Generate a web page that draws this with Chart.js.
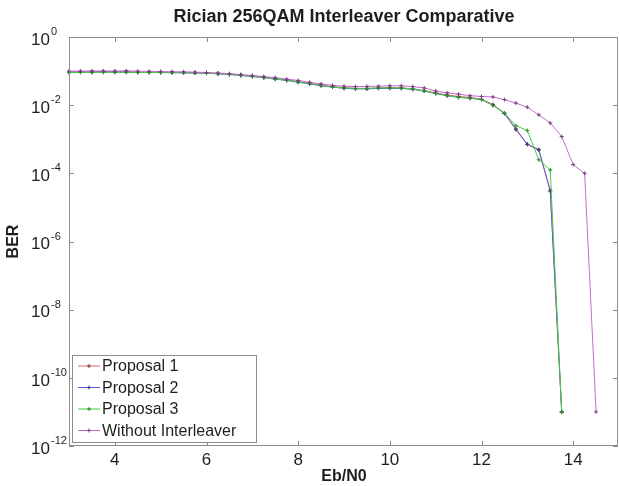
<!DOCTYPE html>
<html>
<head>
<meta charset="utf-8">
<script src="https://cdn.jsdelivr.net/npm/chart.js@4/dist/chart.umd.min.js"></script>
<style>
  html, body { margin: 0; padding: 0; background: #fff; }
  #wrap { width: 619px; height: 486px; position: relative; }
</style>
</head>
<body>
<div id="wrap"><canvas id="chart" width="619" height="486"></canvas></div>
<script>
// Eb/N0 values (dB), step 0.25
const ebn0 = [3, 3.25, 3.5, 3.75, 4, 4.25, 4.5, 4.75, 5, 5.25, 5.5, 5.75, 6, 6.25, 6.5, 6.75,
  7, 7.25, 7.5, 7.75, 8, 8.25, 8.5, 8.75, 9, 9.25, 9.5, 9.75, 10, 10.25, 10.5, 10.75,
  11, 11.25, 11.5, 11.75, 12, 12.25, 12.5, 12.75, 13, 13.25, 13.5, 13.75]
const ebn0NoInterleaver = [...ebn0, 14, 14.25, 14.5]

const proposal1 = [0.095, 0.096, 0.095, 0.097, 0.095, 0.096, 0.093, 0.093, 0.092, 0.091, 0.091, 0.089,
  0.088, 0.085, 0.082, 0.077, 0.072, 0.066, 0.061, 0.055, 0.049, 0.044, 0.039, 0.035,
  0.033, 0.031, 0.031, 0.032, 0.033, 0.032, 0.030, 0.027, 0.023, 0.020, 0.018, 0.017,
  0.015, 0.0105, 0.0058, 0.0019, 0.0007, 0.00048, 3.2e-5, 1e-11]

const proposal2 = [0.093, 0.094, 0.094, 0.095, 0.094, 0.094, 0.092, 0.092, 0.091, 0.090, 0.089, 0.088,
  0.086, 0.083, 0.079, 0.074, 0.069, 0.064, 0.058, 0.053, 0.047, 0.042, 0.037, 0.034,
  0.031, 0.030, 0.030, 0.031, 0.031, 0.031, 0.029, 0.026, 0.022, 0.019, 0.017, 0.016,
  0.0145, 0.0100, 0.0057, 0.0020, 0.00072, 0.00050, 3.0e-5, 1e-11]

const proposal3 = [0.090, 0.091, 0.091, 0.092, 0.092, 0.092, 0.091, 0.091, 0.090, 0.090, 0.089, 0.088,
  0.087, 0.084, 0.080, 0.075, 0.070, 0.065, 0.059, 0.054, 0.048, 0.043, 0.038, 0.034,
  0.032, 0.031, 0.031, 0.032, 0.032, 0.032, 0.030, 0.026, 0.022, 0.019, 0.017, 0.016,
  0.0148, 0.0098, 0.0059, 0.0025, 0.0018, 0.00025, 0.000126, 1e-11]

const withoutInterleaver = [0.100, 0.100, 0.101, 0.101, 0.100, 0.102, 0.099, 0.098, 0.097, 0.096, 0.095, 0.093,
  0.091, 0.088, 0.084, 0.079, 0.074, 0.069, 0.064, 0.058, 0.053, 0.047, 0.042, 0.038,
  0.036, 0.035, 0.0355, 0.036, 0.037, 0.037, 0.035, 0.032, 0.026, 0.023, 0.021, 0.019,
  0.018, 0.0174, 0.0145, 0.0115, 0.0087, 0.0052, 0.003, 0.0012, 0.00018, 0.0001, 1e-11]

const xTicks = [4, 6, 8, 10, 12, 14]
const yTickExponents = [0, -2, -4, -6, -8, -10, -12]

const chartTitle = 'Rician 256QAM Interleaver Comparative'
const seriesNames = ['Proposal 1', 'Proposal 2', 'Proposal 3', 'Without Interleaver']
const seriesColors = ['#e06a6a', '#5a5ad6', '#3fcf3f', '#c46ccc']
const markerColors = ['#8a3a3a', '#33338a', '#2a8a2a', '#7a3a80']

const toPoints = (xs, ys) => xs.map((x, i) => ({ x: x, y: ys[i] }))

const axisColor = '#8c8c8c'
const textColor = '#1e1e1e'
const fontFamily = '"Liberation Sans", Arial, sans-serif'

// MATLAB style box, inward ticks, 10^n labels, title and legend
const matlabPlugin = {
  id: 'matlabPlugin',

  afterDraw: (chart) => {
    const { ctx, chartArea, scales } = chart
    const { left, right, top, bottom } = chartArea

    ctx.save()
    ctx.strokeStyle = axisColor
    ctx.lineWidth = 1
    ctx.strokeRect(left + 0.5, top + 0.5, right - left - 2, bottom - top - 1)

    ctx.beginPath()
    xTicks.forEach((t) => {
      const x = Math.round(scales.x.getPixelForValue(t)) + 0.5
      ctx.moveTo(x, bottom)
      ctx.lineTo(x, bottom - 5)
      ctx.moveTo(x, top)
      ctx.lineTo(x, top + 5)
    })
    yTickExponents.forEach((e) => {
      const y = Math.round(scales.y.getPixelForValue(Math.pow(10, e))) + 0.5
      ctx.moveTo(left, y)
      ctx.lineTo(left + 5, y)
      ctx.moveTo(right - 1, y)
      ctx.lineTo(right - 6, y)
    })
    ctx.stroke()

    // title centred over the plot box
    ctx.fillStyle = textColor
    ctx.font = 'bold 18px ' + fontFamily
    ctx.textAlign = 'center'
    ctx.textBaseline = 'middle'
    ctx.fillText(chartTitle, (left + right) / 2, 17)

    // y tick labels as 10 with superscript exponent
    yTickExponents.forEach((e) => {
      const y = scales.y.getPixelForValue(Math.pow(10, e))
      ctx.font = '17px ' + fontFamily
      ctx.textAlign = 'right'
      ctx.textBaseline = 'middle'
      ctx.fillText('10', 50, y + 3)
      ctx.font = '11px ' + fontFamily
      ctx.textAlign = 'left'
      ctx.fillText(e === 0 ? '0' : '-' + Math.abs(e), 51, y - 5)
    })

    // legend
    const lx = 72, ly = 355, lw = 184, lh = 87
    ctx.fillStyle = '#fff'
    ctx.fillRect(lx, ly, lw, lh)
    ctx.strokeStyle = axisColor
    ctx.strokeRect(lx + 0.5, ly + 0.5, lw, lh)
    chart.data.datasets.forEach((ds, i) => {
      const ry = ly + 11 + i * 21.5
      ctx.strokeStyle = ds.borderColor
      ctx.lineWidth = 1
      ctx.beginPath()
      ctx.moveTo(78, ry)
      ctx.lineTo(100, ry)
      ctx.stroke()
      ctx.strokeStyle = ds.pointBorderColor
      ctx.beginPath()
      ctx.moveTo(87, ry)
      ctx.lineTo(91, ry)
      ctx.moveTo(89, ry - 2)
      ctx.lineTo(89, ry + 2)
      ctx.stroke()
      ctx.fillStyle = textColor
      ctx.font = '16px ' + fontFamily
      ctx.textAlign = 'left'
      ctx.textBaseline = 'middle'
      ctx.fillText(ds.label, 102, ry + 1)
    })
    ctx.restore()
  }
}

const seriesData = [
  toPoints(ebn0, proposal1),
  toPoints(ebn0, proposal2),
  toPoints(ebn0, proposal3),
  toPoints(ebn0NoInterleaver, withoutInterleaver)
]

const datasets = seriesNames.map((name, i) => ({
  label: name,
  data: seriesData[i],
  borderColor: seriesColors[i],
  borderWidth: 1,
  pointStyle: 'cross',
  pointRadius: 2,
  pointBorderWidth: 1,
  pointBorderColor: markerColors[i],
  pointBackgroundColor: markerColors[i],
  tension: 0,
  fill: false,
  clip: false,
  order: seriesNames.length - i
}))

const config = {
  type: 'line',
  data: { datasets: datasets },
  options: {
    responsive: false,
    animation: false,
    events: [],
    layout: { autoPadding: false, padding: { left: 0, right: 0, top: 37, bottom: 0 } },
    plugins: {
      legend: { display: false },
      tooltip: { enabled: false },
      title: { display: false }
    },
    scales: {
      x: {
        type: 'linear',
        min: 3,
        max: 15,
        grid: { display: false, drawTicks: false },
        border: { display: false },
        afterBuildTicks: (scale) => { scale.ticks = xTicks.map((v) => ({ value: v })) },
        afterFit: (scale) => { scale.height = 40 },
        ticks: {
          color: textColor,
          padding: 4,
          maxRotation: 0,
          font: { family: fontFamily, size: 17 }
        },
        title: {
          display: true,
          text: 'Eb/N0',
          color: textColor,
          padding: { top: 0, bottom: 0 },
          font: { family: fontFamily, size: 16, weight: 'bold' }
        }
      },
      y: {
        type: 'logarithmic',
        min: 1e-12,
        max: 1,
        grid: { display: false, drawTicks: false },
        border: { display: false },
        afterBuildTicks: (scale) => {
          scale.ticks = yTickExponents.map((e) => ({ value: Math.pow(10, e) }))
        },
        afterFit: (scale) => { scale.width = 69 },
        ticks: { display: false },
        title: {
          display: true,
          text: 'BER',
          color: textColor,
          padding: { top: 4, bottom: 0 },
          font: { family: fontFamily, size: 16, weight: 'bold' }
        }
      }
    }
  },
  plugins: [matlabPlugin]
}

const chart = new Chart(document.getElementById('chart').getContext('2d'), config)
</script>
</body>
</html>
